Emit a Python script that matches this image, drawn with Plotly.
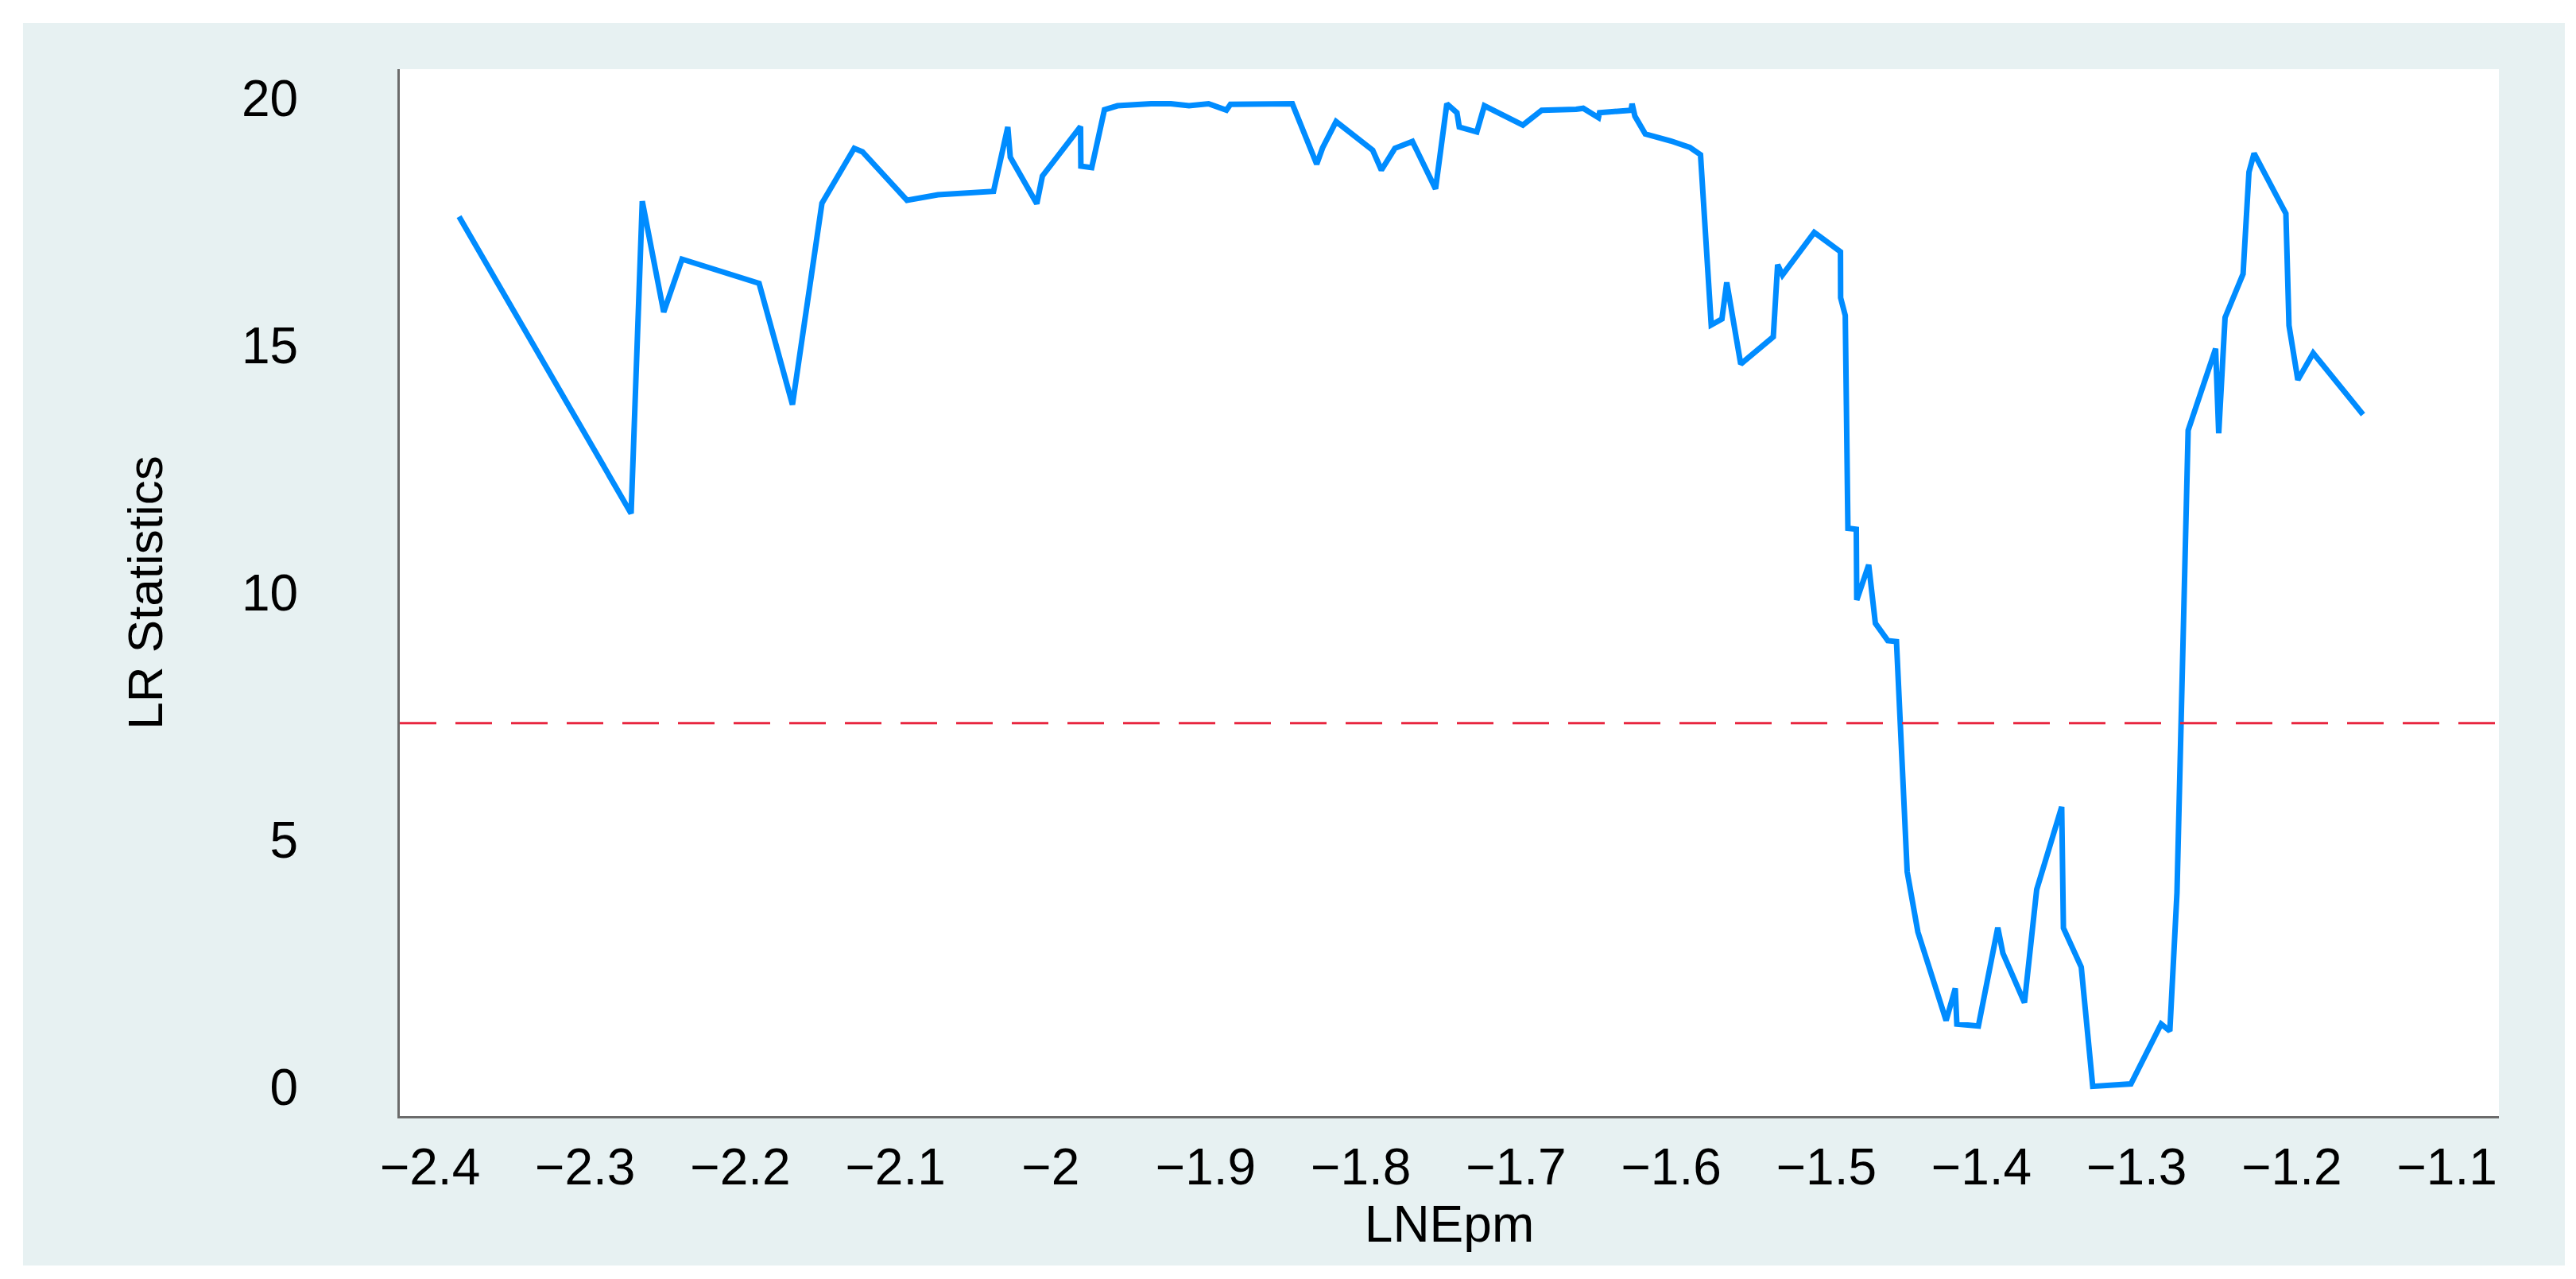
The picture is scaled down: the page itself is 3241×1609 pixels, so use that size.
import plotly.graph_objects as go

# threshold-variable grid (LNEpm) and LR statistic
lnepm = [
    -2.3813, -2.2704, -2.2632, -2.2494, -2.2376, -2.1879, -2.1664, -2.1474, -2.1266, -2.1213,
    -2.0926, -2.0726, -2.0368, -2.0276, -2.0260, -2.0089, -2.0053, -1.9807, -1.9805, -1.9735,
    -1.9653, -1.9569, -1.9353, -1.9225, -1.9108, -1.8982, -1.8867, -1.8841, -1.8442, -1.8285,
    -1.8247, -1.8160, -1.7924, -1.7868, -1.7781, -1.7668, -1.7519, -1.7446, -1.7381, -1.7366,
    -1.7253, -1.7204, -1.6956, -1.6835, -1.6613, -1.6567, -1.6469, -1.6462, -1.6259, -1.6252,
    -1.6234, -1.6167, -1.6003, -1.5880, -1.5811, -1.5742, -1.5673, -1.5642, -1.5552, -1.5342,
    -1.5314, -1.5283, -1.5078, -1.4909, -1.4908, -1.4878, -1.4861, -1.4807, -1.4804, -1.4727,
    -1.4684, -1.4604, -1.4548, -1.4479, -1.4410, -1.4228, -1.4169, -1.4159, -1.4020, -1.3895,
    -1.3862, -1.3723, -1.3644, -1.3483, -1.3472, -1.3357, -1.3283, -1.3037, -1.2842, -1.2786,
    -1.2740, -1.2668, -1.2491, -1.2471, -1.2430, -1.2314, -1.2276, -1.2243, -1.2038, -1.2018,
    -1.1961, -1.1862, -1.1541,
]
lr_stat = [
    17.60, 11.60, 17.91, 15.67, 16.74, 16.25, 13.80, 17.87, 18.98, 18.91,
    17.93, 18.04, 18.11, 19.41, 18.80, 17.86, 18.42, 19.42, 18.62, 18.59,
    19.76, 19.84, 19.88, 19.88, 19.84, 19.88, 19.75, 19.87, 19.88, 18.66,
    18.99, 19.52, 18.94, 18.54, 18.98, 19.12, 18.16, 19.88, 19.70, 19.41,
    19.31, 19.84, 19.45, 19.75, 19.77, 19.79, 19.60, 19.70, 19.75, 19.88,
    19.63, 19.27, 19.13, 19.00, 18.85, 15.41, 15.53, 16.27, 14.62, 15.17,
    16.63, 16.42, 17.28, 16.89, 15.96, 15.60, 11.30, 11.28, 9.85, 10.56,
    9.38, 9.03, 9.01, 4.36, 3.14, 1.35, 2.00, 1.28, 1.24, 3.23,
    2.71, 1.71, 4.00, 5.67, 3.22, 2.43, 0.02, 0.07, 1.28, 1.14,
    3.93, 13.28, 14.93, 13.22, 15.56, 16.44, 18.50, 18.88, 17.66, 15.40,
    14.30, 14.84, 13.60,
]
critical_value = 7.36

x_ticks = [-2.4, -2.3, -2.2, -2.1, -2.0, -1.9, -1.8, -1.7, -1.6, -1.5, -1.4, -1.3, -1.2, -1.1]
x_ticktext = ["\u22122.4", "\u22122.3", "\u22122.2", "\u22122.1", "\u22122", "\u22121.9", "\u22121.8",
              "\u22121.7", "\u22121.6", "\u22121.5", "\u22121.4", "\u22121.3", "\u22121.2", "\u22121.1"]
y_ticks = [0, 5, 10, 15, 20]

PANEL = "#E7F1F2"
FONT = "Arial, Liberation Sans, Helvetica, sans-serif"

fig = go.Figure()
fig.add_trace(go.Scatter(
    x=lnepm, y=lr_stat, mode="lines",
    line=dict(color="#008CFF", width=7),
    showlegend=False,
))
fig.add_hline(y=critical_value, line=dict(color="#E8253F", width=3, dash="46px,24px"))

# white frame around the light panel (paper coords relative to plot area)
frame = dict(type="rect", xref="paper", yref="paper", fillcolor="white", line_width=0, layer="below")
fig.add_shape(**frame, x0=-0.3, x1=-0.1795, y0=-0.3, y1=1.3)
fig.add_shape(**frame, x0=1.0314, x1=1.3, y0=-0.3, y1=1.3)
fig.add_shape(**frame, x0=-0.3, x1=1.3, y0=1.0440, y1=1.3)
fig.add_shape(**frame, x0=-0.3, x1=1.3, y0=-0.3, y1=-0.1428)

fig.update_layout(
    width=3241, height=1609,
    margin=dict(l=495, r=105, t=79, b=213),
    paper_bgcolor=PANEL, plot_bgcolor="white",
    font=dict(family=FONT, size=64, color="black"),
    xaxis=dict(
        range=[-2.4195, -1.0665], tickvals=x_ticks, ticktext=x_ticktext,
        showgrid=False, zeroline=False,
        showline=True, linecolor="#6B6B6B", linewidth=3,
        ticks="outside", ticklen=6, tickcolor="rgba(0,0,0,0)",
        tickfont=dict(size=64),
        title=dict(text="LNEpm", font=dict(size=64), standoff=14),
    ),
    yaxis=dict(
        range=[-0.58, 20.58], tickvals=y_ticks,
        showgrid=False, zeroline=False,
        showline=True, linecolor="#6B6B6B", linewidth=3,
        ticks="outside", ticklen=112, tickcolor="rgba(0,0,0,0)",
        tickfont=dict(size=64),
        title=dict(text="LR Statistics", font=dict(size=62), standoff=80),
    ),
)

fig.write_html("out.html")
